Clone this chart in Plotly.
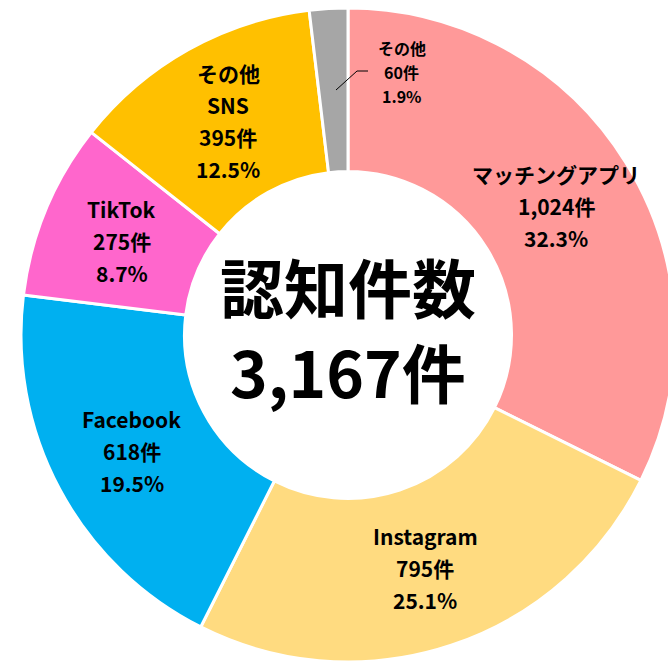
import math
import plotly.graph_objects as go

categories = ["マッチングアプリ", "Instagram", "Facebook", "TikTok", "その他SNS", "その他"]
label_lines = [["マッチングアプリ"], ["Instagram"], ["Facebook"], ["TikTok"], ["その他", "SNS"], ["その他"]]
counts = [1024, 795, 618, 275, 395, 60]
colors = ["#FF9999", "#FFDB80", "#00B0F0", "#FF66CC", "#FFC000", "#A6A6A6"]
center_title = "認知件数"
unit = "件"

total = sum(counts)
FONT = "Liberation Sans Narrow, Noto Sans CJK JP, sans-serif"

W, H = 682, 665
L, R, T, B = 21, 7, 8, 3
PW, PH = W - L - R, H - T - B
CX, CY = L + PW / 2, T + PH / 2
ROUT = PW / 2
HOLE = 0.5
RLAB = ROUT * (1 + HOLE) / 2

def px2paper(px, py):
    return (px - L) / PW, 1 - (py - T) / PH

fig = go.Figure(go.Pie(
    labels=categories,
    values=counts,
    marker=dict(colors=colors, line=dict(color="white", width=3)),
    hole=HOLE,
    sort=False,
    direction="clockwise",
    rotation=0,
    textinfo="none",
    showlegend=False,
    hoverinfo="label+value+percent",
))

def add_lines(px, py, lines, size, spacing):
    n = len(lines)
    for i, s in enumerate(lines):
        x, y = px2paper(px, py + (i - (n - 1) / 2) * spacing)
        fig.add_annotation(x=x, y=y, xref="paper", yref="paper", showarrow=False,
                           text=f"<b>{s}</b>", xanchor="center", yanchor="middle",
                           font=dict(family=FONT, size=size, color="black"))

cum = 0
for name_lines, v in zip(label_lines[:-1], counts[:-1]):
    theta = 2 * math.pi * (cum + v / 2) / total
    cum += v
    px = CX + RLAB * math.sin(theta)
    py = CY - RLAB * math.cos(theta)
    lines = name_lines + [f"{v:,}{unit}", f"{v / total * 100:.1f}%"]
    add_lines(px, py, lines, 21, 32)

# small slice label with leader line
small = counts[-1]
add_lines(402, 72, label_lines[-1] + [f"{small}{unit}", f"{small / total * 100:.1f}%"], 16, 24)
p1 = px2paper(336, 90)
p2 = px2paper(357, 71)
p3 = px2paper(368, 71)
fig.add_shape(type="path", xref="paper", yref="paper",
              path=f"M {p1[0]} {p1[1]} L {p2[0]} {p2[1]} L {p3[0]} {p3[1]}",
              line=dict(color="black", width=1))

add_lines(CX, 285, [center_title], 64, 0)
add_lines(CX, 370, [f"{total:,}{unit}"], 64, 0)

fig.update_layout(
    width=W, height=H,
    margin=dict(l=L, r=R, t=T, b=B),
    paper_bgcolor="white",
    plot_bgcolor="white",
)

fig.write_html(
    "out.html",
    config={"displayModeBar": False},
    post_script="document.body.style.margin='0';document.body.style.overflow='hidden';document.documentElement.style.overflow='hidden';",
)
